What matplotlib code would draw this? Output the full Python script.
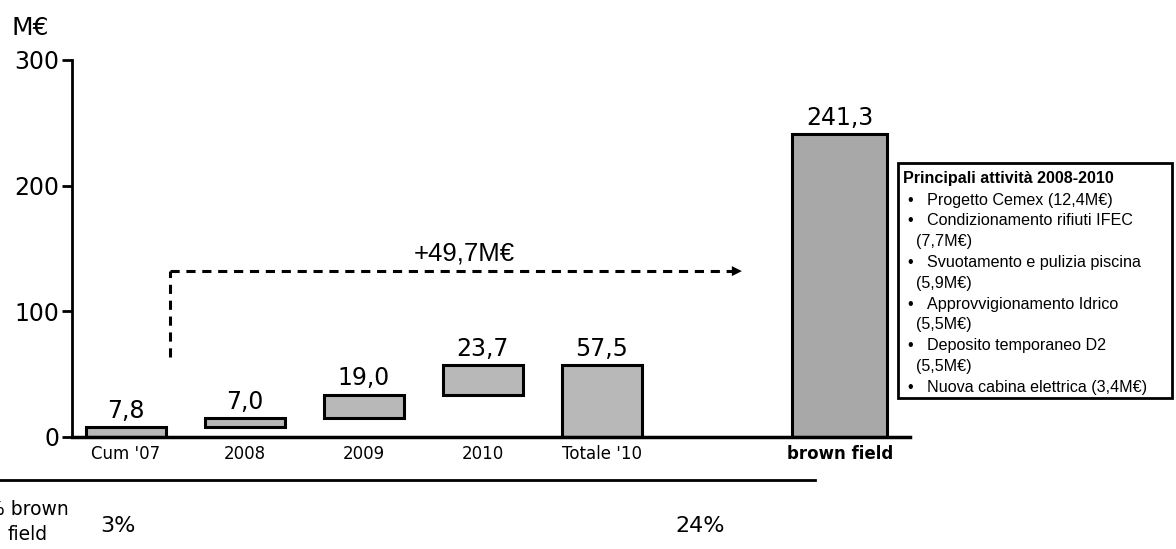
import matplotlib.pyplot as plt
from matplotlib.patches import Rectangle
from matplotlib.lines import Line2D

# Data
categories = ["Cum '07", "2008", "2009", "2010", "Totale '10", "brown field"]
values = [7.8, 7.0, 19.0, 23.7, 57.5, 241.3]
is_total = [False, False, False, False, True, True]
positions = [0, 1, 2, 3, 4, 6]
yticks = [0, 100, 200, 300]
share_labels = ["3%", "24%"]
delta_label = "+49,7M€"
box_title = "Principali attività 2008-2010"
box_lines = [
    ("•", "Progetto Cemex (12,4M€)"),
    ("•", "Condizionamento rifiuti IFEC"),
    ("", "(7,7M€)"),
    ("•", "Svuotamento e pulizia piscina"),
    ("", "(5,9M€)"),
    ("•", "Approvvigionamento Idrico"),
    ("", "(5,5M€)"),
    ("•", "Deposito temporaneo D2"),
    ("", "(5,5M€)"),
    ("•", "Nuova cabina elettrica (3,4M€)"),
]

W, H = 1176, 549
fig = plt.figure(figsize=(W / 100, H / 100), dpi=100)
fig.patch.set_facecolor('white')

# axes in pixel coordinates: x 72..910, y 60..437
ax = fig.add_axes([72 / W, 1 - 437 / H, (910 - 72) / W, (437 - 60) / H])

# waterfall bottoms
bottoms = []
running = 0.0
for v, tot in zip(values, is_total):
    if tot:
        bottoms.append(0.0)
    else:
        bottoms.append(running)
        running += v

widths = [0.8 if c == "brown field" else 0.67 for c in categories]
colors = ['#a8a8a8' if c == "brown field" else '#b8b8b8' for c in categories]
ax.bar(positions, values, bottom=bottoms, width=widths, color=colors,
       edgecolor='black', linewidth=2.2, zorder=3)

for p, v, b in zip(positions, values, bottoms):
    ax.annotate(f"{v:.1f}".replace('.', ','), xy=(p, b + v), xytext=(0, 3),
                textcoords='offset points', ha='center', va='bottom',
                fontsize=17, family='DejaVu Sans')

ax.set_xlim(-0.454, 6.59)
ax.set_ylim(0, 300)
ax.set_yticks(yticks)
ax.set_yticklabels([str(t) for t in yticks], fontsize=17)
ax.set_xticks(positions)
ax.set_xticklabels(categories, fontsize=12)
for lbl in ax.get_xticklabels():
    if lbl.get_text() == "brown field":
        lbl.set_fontweight('bold')
ax.tick_params(axis='x', length=0, pad=6)
ax.tick_params(axis='y', length=7, width=2, pad=2)
for s in ['top', 'right']:
    ax.spines[s].set_visible(False)
ax.spines['left'].set_linewidth(2)
ax.spines['bottom'].set_linewidth(2.5)
ax.spines['bottom'].set_zorder(4)

# dashed growth arrow
ax.plot([0.37, 0.37], [64, 132], color='black', ls=(0, (3, 2.2)), lw=2.2, zorder=2)
ax.plot([0.37, 5.1], [132, 132], color='black', ls=(0, (3, 2.2)), lw=2.2, zorder=2)
ax.annotate('', xy=(5.2, 132), xytext=(5.05, 132),
            arrowprops=dict(arrowstyle='-|>', color='black', lw=0, mutation_scale=18))
fig.text(464 / W, 1 - 253 / H, delta_label, ha='center', va='center',
         fontsize=18.5, family='Liberation Sans')

# unit label
fig.text(12 / W, 1 - 28 / H, "M€", ha='left', va='center', fontsize=18)

# bottom line and share row (left label is cut by the page edge, as in the original)
fig.add_artist(Line2D([0, 815 / W], [1 - 480 / H, 1 - 480 / H], color='black', lw=2))
fig.text(69 / W, 1 - 522 / H, "% brown\nfield", ha='right', va='center',
         fontsize=13.5, linespacing=1.45, multialignment='center')
fig.text(118 / W, 1 - 526 / H, share_labels[0], ha='center', va='center', fontsize=16)
fig.text(700 / W, 1 - 526 / H, share_labels[1], ha='center', va='center', fontsize=16)

# activities box
fig.add_artist(Rectangle((898 / W, 1 - 398 / H), 274 / W, 235 / H,
                         transform=fig.transFigure, facecolor='white',
                         edgecolor='black', lw=2))
fs = 11.6
fig.text(903 / W, 1 - 179 / H, box_title, ha='left', va='center', fontsize=fs,
         fontweight='bold', family='Liberation Sans')
for i, (bullet, txt) in enumerate(box_lines):
    y = 1 - (200 + i * 20.8) / H
    if bullet:
        fig.text(907 / W, y, bullet, ha='left', va='center', fontsize=fs,
                 family='Liberation Sans')
        fig.text(927 / W, y, txt, ha='left', va='center', fontsize=fs,
                 family='Liberation Sans')
    else:
        fig.text(916 / W, y, txt, ha='left', va='center', fontsize=fs,
                 family='Liberation Sans')

fig.savefig('out.png', dpi=100)
